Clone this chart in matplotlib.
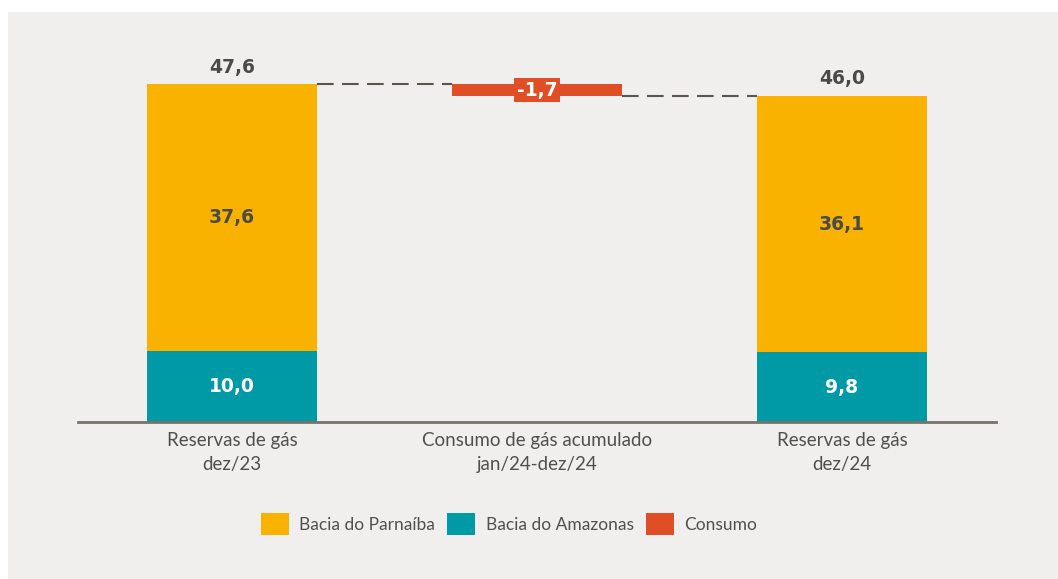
import matplotlib.pyplot as plt
from matplotlib.patches import Patch, Rectangle

categories = ["Reservas de gás\ndez/23", "Consumo de gás acumulado\njan/24-dez/24", "Reservas de gás\ndez/24"]
parnaiba = [37.6, 36.1]
amazonas = [10.0, 9.8]
consumo = -1.7
totais = [47.6, 46.0]

YELLOW = "#F9B200"
TEAL = "#009AA6"
RED = "#E04E25"
BG = "#F0EFED"
DARK = "#4a4a4a"


def fmt(v):
    return f"{v:.1f}".replace(".", ",")


def main():
    fig = plt.figure(figsize=(10.58, 5.79), dpi=100)
    fig.patch.set_facecolor("white")
    fig.patches.append(Rectangle((8 / 1058, 0), 1, 1 - 12 / 579, transform=fig.transFigure,
                                 facecolor=BG, edgecolor="none", zorder=-10))
    ax = fig.add_axes([78 / 1058, 157 / 579, 918 / 1058, 382 / 579])
    ax.set_facecolor("none")

    xs = [0, 2]
    w = 0.557
    ax.bar(xs, amazonas, width=w, color=TEAL, zorder=2)
    ax.bar(xs, parnaiba, width=w, bottom=amazonas, color=YELLOW, zorder=2)
    ax.bar(1, -consumo, width=w, bottom=totais[0] + consumo, color=RED, zorder=2)

    # dashed connectors
    dash = (0, (8, 4))
    ax.plot([w / 2, 1 - w / 2], [totais[0], totais[0]], ls=dash, color="#5a564e", lw=1.5, zorder=1)
    ax.plot([1 + w / 2, 2 - w / 2], [totais[0] + consumo, totais[0] + consumo],
            ls=dash, color="#5a564e", lw=1.5, zorder=1)

    for x, a, p, t in zip(xs, amazonas, parnaiba, totais):
        ax.text(x, a / 2, fmt(a), ha="center", va="center", color="white",
                fontsize=13.5, fontweight="bold", family="DejaVu Sans", zorder=3)
        ax.text(x, a + p / 2, fmt(p), ha="center", va="center", color=DARK,
                fontsize=13.5, fontweight="bold", family="DejaVu Sans", zorder=3)
        ax.text(x, t + 1.0, fmt(t), ha="center", va="bottom", color=DARK,
                fontsize=13.5, fontweight="bold", family="DejaVu Sans", zorder=3)
    ax.text(1, totais[0] + consumo / 2, fmt(consumo), ha="center", va="center", color="white",
            fontsize=13.5, fontweight="bold", family="DejaVu Sans", zorder=3,
            bbox=dict(boxstyle="square,pad=0.12", facecolor=RED, edgecolor="none"))

    ax.set_xlim(-0.505, 2.505)
    ax.set_ylim(0, 382 / 7.1)
    ax.set_xticks(range(3))
    ax.set_xticklabels(categories, fontsize=13.5, color="#505050", family="Lato", linespacing=1.55)
    ax.tick_params(axis="x", length=0, pad=7)
    ax.set_yticks([])
    for s in ["top", "right", "left"]:
        ax.spines[s].set_visible(False)
    ax.spines["bottom"].set_color("#77726a")
    ax.spines["bottom"].set_linewidth(2)

    handles = [Patch(facecolor=YELLOW, label="Bacia do Parnaíba"),
               Patch(facecolor=TEAL, label="Bacia do Amazonas"),
               Patch(facecolor=RED, label="Consumo")]
    leg = fig.legend(handles=handles, loc="center", bbox_to_anchor=(509 / 1058, 1 - 524 / 579), ncol=3,
                     frameon=False, prop={"family": "Lato", "size": 12.5},
                     handlelength=1.6, handleheight=1.5, handletextpad=0.6, columnspacing=0.7)
    for t in leg.get_texts():
        t.set_color("#505050")

    fig.savefig("out.png", dpi=100, facecolor=fig.get_facecolor())


if __name__ == "__main__":
    main()
